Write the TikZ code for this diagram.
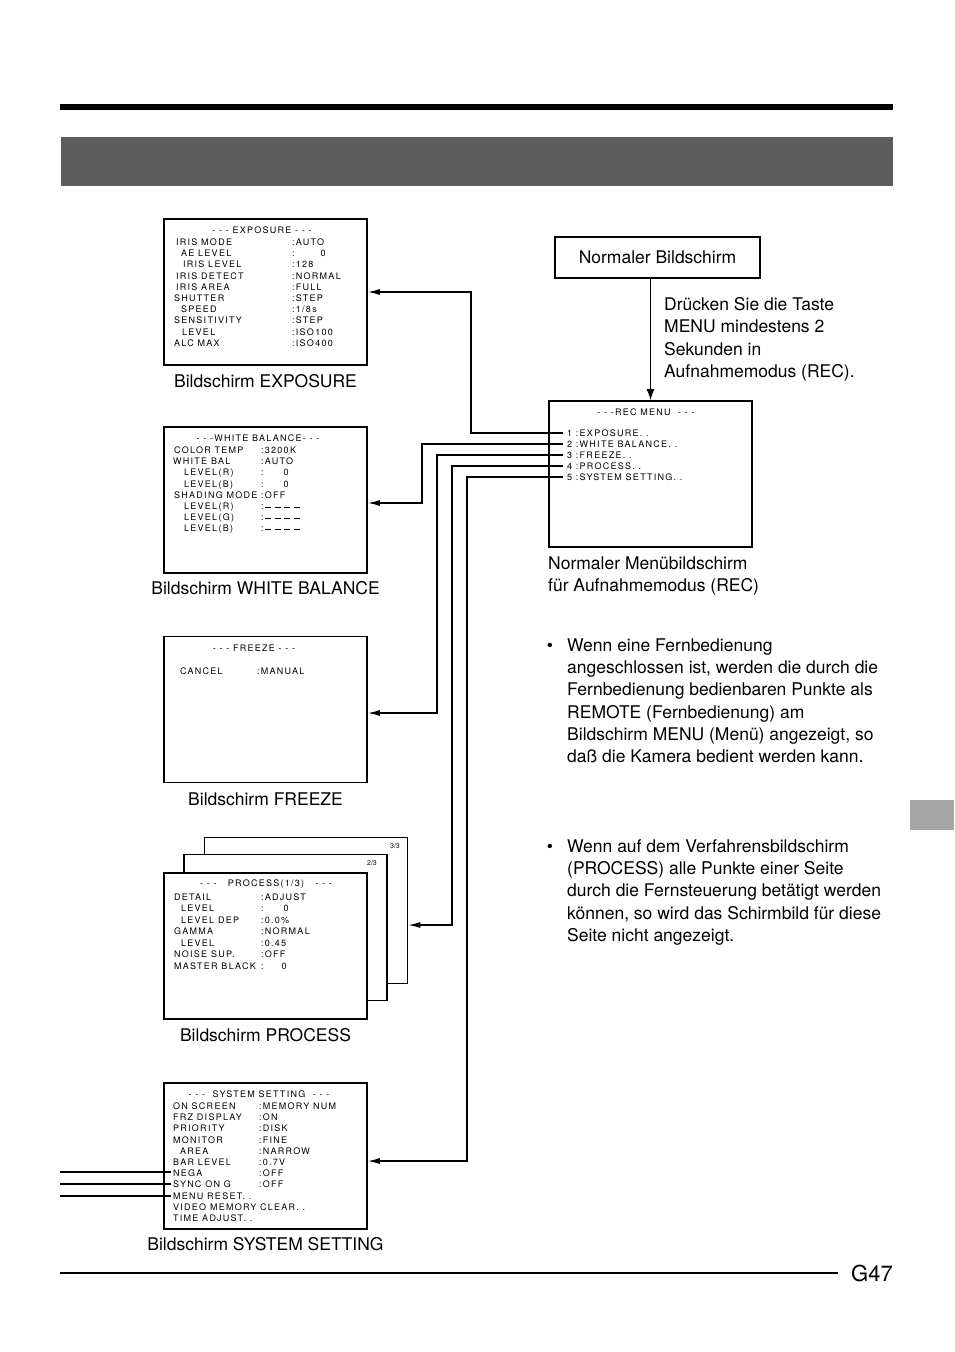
\documentclass[tikz,border=0pt]{standalone}
\usepackage{fontspec}
\setmainfont{TeX Gyre Heros}
\newfontfamily\scrfont[LetterSpace=14]{TeX Gyre Heros}
\usetikzlibrary{arrows.meta,positioning}

\definecolor{bandgrey}{HTML}{5D5D5D}
\definecolor{tabgrey}{HTML}{A6A6A6}

% short blank marks used on the white balance screen
\newcommand{\blankmark}{\raisebox{2pt}{\rule{6pt}{0.9pt}}}
\newcommand{\blankrow}{:\,\blankmark\hspace{3.5pt}\blankmark\hspace{3.5pt}\blankmark\hspace{3.5pt}\blankmark}

\tikzset{
  screen/.style={draw, line width=1.8pt, fill=white, minimum width=203pt, minimum height=146pt, inner sep=0pt},
  scrtext/.style={font=\scrfont\fontsize{9}{11.2}\selectfont, inner sep=0pt, anchor=north west},
  scrtitle/.style={font=\scrfont\fontsize{9}{11.2}\selectfont, inner sep=0pt},
  pagetag/.style={font=\fontsize{7}{8}\selectfont, inner sep=0pt},
  menuitem/.style={font=\scrfont\fontsize{9}{11.2}\selectfont, anchor=west, inner xsep=4pt, inner ysep=0pt, text height=6.4pt, text depth=0pt},
  caption/.style={font=\fontsize{17.5}{22.2}\selectfont, inner sep=0pt, text height=12.5pt, text depth=0pt},
  para/.style={font=\fontsize{17.5}{22.2}\selectfont, inner sep=0pt, anchor=north west, align=left},
  link/.style={line width=1.2pt, -{Latex[length=12pt,width=6pt]}}
}

\begin{document}
\begin{tikzpicture}[x=1pt,y=-1pt]
\useasboundingbox (0,0) rectangle (954,1352);

% page header, side tab and footer
\fill (60,104) rectangle (893,110);
\fill[bandgrey] (61,137) rectangle (893,186);
\fill[tabgrey] (910,800) rectangle (954,830);
\draw[line width=2pt] (60,1273) -- (838,1273);
\node[font=\fontsize{22}{26}\selectfont, inner sep=0pt, anchor=east] (pagenum) at (893,1273) {G47};

% normal screen and the REC menu
\node[draw, line width=1.3pt, minimum width=205pt, minimum height=41pt, inner sep=0pt,
      font=\fontsize{17.5}{22.2}\selectfont] (normal) at (657.5,257.5) {Normaler Bildschirm};
\node[screen] (rec) at (650.5,474) {};
\draw[line width=1.3pt, -{Latex[length=11pt,width=8pt]}] (normal.south -| rec.north) -- (rec.north);
\node[para] (press) at (664,297.5) {Drücken Sie die Taste\\MENU mindestens 2\\Sekunden in\\Aufnahmemodus (REC).};
\node[scrtitle] (recH) at (646,412) {- - -REC MENU\ \ - - -};
\node[menuitem] (rec1) at (563,433) {1 :EXPOSURE. .};
\node[menuitem] (rec2) at (563,444) {2 :WHITE BALANCE. .};
\node[menuitem] (rec3) at (563,455) {3 :FREEZE. .};
\node[menuitem] (rec4) at (563,466) {4 :PROCESS. .};
\node[menuitem] (rec5) at (563,477) {5 :SYSTEM SETTING. .};
\node[para] (recL) at (548,556.5) {Normaler Menübildschirm\\für Aufnahmemodus (REC)};

% notes
\node[caption] (b1) at (550,645) {\textbullet};
\node[para] (note1) at (567,638.5) {Wenn eine Fernbedienung\\angeschlossen ist, werden die durch die\\Fernbedienung bedienbaren Punkte als\\REMOTE (Fernbedienung) am\\Bildschirm MENU (Menü) angezeigt, so\\daß die Kamera bedient werden kann.};
\node[caption] (b2) at (550,846) {\textbullet};
\node[para] (note2) at (567,839.5) {Wenn auf dem Verfahrensbildschirm\\(PROCESS) alle Punkte einer Seite\\durch die Fernsteuerung betätigt werden\\können, so wird das Schirmbild für diese\\Seite nicht angezeigt.};

% EXPOSURE screen
\node[screen] (expo) at (265.5,292) {};
\node[scrtitle] (expoH) at (262,230) {- - - EXPOSURE - - -};
\node[scrtext] (expoT) at (174,237.4) {%
\begin{tabular}{@{}p{118pt}@{}l@{}}
\hspace*{2pt}IRIS MODE & :AUTO\\
\hspace*{7pt}AE LEVEL & :\hspace{26pt}0\\
\hspace*{9pt}IRIS LEVEL & :128\\
\hspace*{2pt}IRIS DETECT & :NORMAL\\
\hspace*{2pt}IRIS AREA & :FULL\\
SHUTTER & :STEP\\
\hspace*{7pt}SPEED & :1/8s\\
SENSITIVITY & :STEP\\
\hspace*{8pt}LEVEL & :ISO100\\
ALC MAX & :ISO400
\end{tabular}};
\node[caption, below=8.5pt of expo] (expoL) {Bildschirm EXPOSURE};

% WHITE BALANCE screen
\node[screen] (wb) at (265.5,500) {};
\node[scrtitle] (wbH) at (258,438) {- - -WHITE BALANCE- - -};
\node[scrtext] (wbT) at (173,445.4) {%
\begin{tabular}{@{}p{88pt}@{}l@{}}
\hspace*{1pt}COLOR TEMP & :3200K\\
WHITE BAL & :AUTO\\
\hspace*{11pt}LEVEL(R) & :\hspace{20pt}0\\
\hspace*{11pt}LEVEL(B) & :\hspace{20pt}0\\
\hspace*{1pt}SHADING MODE & :OFF\\
\hspace*{11pt}LEVEL(R) & \blankrow\\
\hspace*{11pt}LEVEL(G) & \blankrow\\
\hspace*{11pt}LEVEL(B) & \blankrow
\end{tabular}};
\node[caption, below=7.5pt of wb] (wbL) {Bildschirm WHITE BALANCE};

% FREEZE screen
\node[screen] (frz) at (265.5,709.5) {};
\node[scrtitle] (frzH) at (254,648) {- - - FREEZE - - -};
\node[scrtext] (frzT) at (180,666.4) {%
\begin{tabular}{@{}p{77pt}@{}l@{}}
CANCEL & :MANUAL
\end{tabular}};
\node[caption, below=9.5pt of frz] (frzL) {Bildschirm FREEZE};

% PROCESS screens, three pages
\node[screen] (proc3) at (306,910.5) {};
\node[pagetag] (tag3) at (395,846) {3/3};
\node[screen] (proc2) at (285.5,927.5) {};
\node[pagetag] (tag2) at (372,863) {2/3};
\node[screen] (proc) at (265.5,946) {};
\node[scrtitle] (procH) at (266,884) {- - -\ \ \ PROCESS(1/3)\ \ \ - - -};
\node[scrtext, font=\scrfont\fontsize{9}{11.5}\selectfont] (procT) at (174,892.2) {%
\begin{tabular}{@{}p{87pt}@{}l@{}}
DETAIL & :ADJUST\\
\hspace*{7pt}LEVEL & :\hspace{20pt}0\\
\hspace*{7pt}LEVEL DEP & :0.0\%\\
GAMMA & :NORMAL\\
\hspace*{7pt}LEVEL & :0.45\\
NOISE SUP. & :OFF\\
MASTER BLACK & :\hspace{18pt}0
\end{tabular}};
\node[caption, below=8.5pt of proc] (procL) {Bildschirm PROCESS};

% SYSTEM SETTING screen
\node[screen] (sys) at (265.5,1156) {};
\node[scrtitle] (sysH) at (259,1094) {- - -\ \ SYSTEM SETTING\ \ - - -};
\node[scrtext] (sysT) at (173,1101.4) {%
\begin{tabular}{@{}p{86pt}@{}l@{}}
ON SCREEN & :MEMORY NUM\\
FRZ DISPLAY & :ON\\
PRIORITY & :DISK\\
MONITOR & :FINE\\
\hspace*{7pt}AREA & :NARROW\\
BAR LEVEL & :0.7V\\
NEGA & :OFF\\
SYNC ON G & :OFF\\
\multicolumn{2}{@{}l@{}}{MENU RESET. .}\\
\multicolumn{2}{@{}l@{}}{VIDEO MEMORY CLEAR. .}\\
\multicolumn{2}{@{}l@{}}{TIME ADJUST. .}
\end{tabular}};
\node[caption, below=7.5pt of sys] (sysL) {Bildschirm SYSTEM SETTING};

% lines from the REC menu to each screen
\draw[link] (rec1.west) -- ++(-92,0) |- (expo.east);
\draw[link] (rec2.west) -- ++(-141,0) |- ([yshift=-3pt]wb.east);
\draw[link] (rec3.west) -- ++(-126,0) |- ([yshift=-3.5pt]frz.east);
\draw[link] (rec4.west) -- ++(-111,0) |- ([yshift=-14.5pt]proc3.east);
\draw[link] (rec5.west) -- ++(-96,0) |- ([yshift=-5pt]sys.east);

% remote lines on the system setting screen
\foreach \yy/\nm in {1172/nega,1184/sync,1196/reset} {
  \coordinate (\nm) at (171,\yy);
  \draw[line width=1.2pt] (\nm) -- ++(-111,0);
}
\end{tikzpicture}
\end{document}
